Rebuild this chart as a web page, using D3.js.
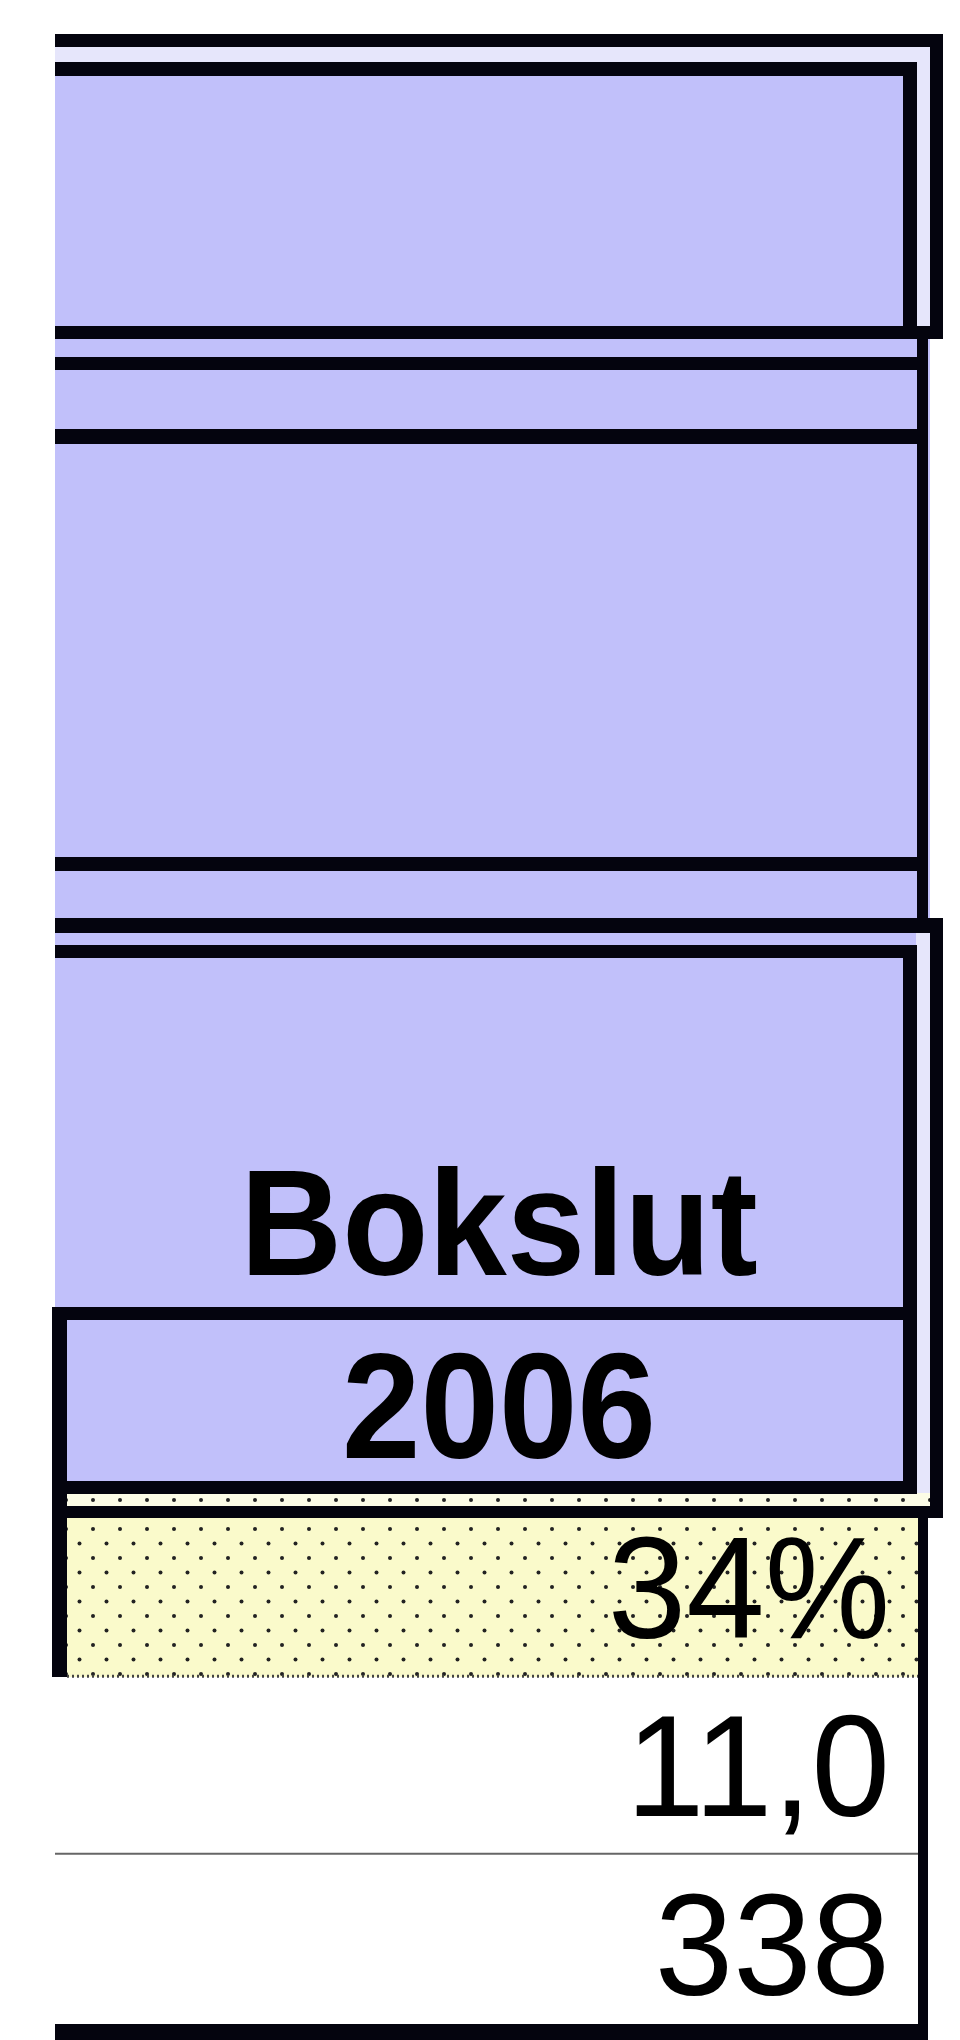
<!DOCTYPE html>
<html>
<head>
<meta charset="utf-8">
<script src="https://cdn.jsdelivr.net/npm/d3@7"></script>
<style>
  body { margin: 0; background: #fff; }
  svg { display: block; }
  text { font-family: "Liberation Sans", Arial, sans-serif; fill: #000; }
</style>
</head>
<body>
<svg width="960" height="2040"></svg>
<script>
// Table content
const HEADER = ["Bokslut", "2006"];
const VALUES = [0.34, 11.0, 338];
const FORMATS = [".0%", ".1f", "d"];

const svg = d3.select("svg");
const sv = d3.formatLocale({ decimal: ",", thousands: "\u00a0", grouping: [3], currency: ["", " kr"] });

const LAV = "#c1c0fa", PALE = "#e6e6fb", YEL = "#fafacb";

// dotted fill like the spreadsheet pattern
const defs = svg.append("defs");
function dots(id, bg) {
    const p = defs.append("pattern").attr("id", id)
        .attr("patternUnits", "userSpaceOnUse")
        .attr("x", 62).attr("y", 1496)
        .attr("width", 27).attr("height", 29);
    p.append("rect").attr("width", 27).attr("height", 29).attr("fill", bg);
    p.append("circle").attr("cx", 4).attr("cy", 4).attr("r", 2).attr("fill", "#222");
    p.append("circle").attr("cx", 17.5).attr("cy", 18.5).attr("r", 2).attr("fill", "#222");
}
dots("dotsYel", YEL);
dots("dotsPale", "#fcfce6");

// fills [x, y, w, h, fill]
const fills = [
    [55, 40, 875, 1460, LAV],
    [55, 47, 875, 16, PALE],
    [916, 47, 15, 285, PALE],
    [916, 932, 15, 570, PALE],
    [55, 1493, 876, 14, "url(#dotsPale)"],
    [60, 1517, 864, 160, "url(#dotsYel)"]
];
svg.append("g").selectAll("rect").data(fills).join("rect")
    .attr("x", d => d[0]).attr("y", d => d[1])
    .attr("width", d => d[2]).attr("height", d => d[3])
    .attr("fill", d => d[4]);

// borders [x0, y0, x1, y1]
const borders = [
    [55, 34, 943, 47],
    [930, 34, 943, 339],
    [55, 62, 917, 76],
    [903, 62, 917, 339],
    [55, 326, 943, 339],
    [917, 332, 928, 930],
    [55, 357, 925, 370],
    [55, 429, 925, 444],
    [55, 857, 925, 871],
    [55, 918, 943, 933],
    [930, 918, 943, 1518],
    [55, 945, 917, 958],
    [903, 945, 917, 1494],
    [52, 1307, 917, 1320],
    [52, 1307, 67, 1677],
    [52, 1481, 917, 1494],
    [52, 1506, 943, 1518],
    [918, 1506, 928, 2040],
    [55, 2024, 928, 2040]
];
svg.append("g").selectAll("rect").data(borders).join("rect")
    .attr("x", d => d[0]).attr("y", d => d[1])
    .attr("width", d => d[2] - d[0]).attr("height", d => d[3] - d[1])
    .attr("fill", "#04040e");

// value rows
const y = d3.scaleBand().domain(d3.range(VALUES.length)).range([1500, 2035]);

// row separators under the yellow cell and between the lower rows
svg.append("line")
    .attr("x1", 67).attr("x2", 918)
    .attr("y1", y(1) - 2).attr("y2", y(1) - 2)
    .attr("stroke", "#444").attr("stroke-width", 3).attr("stroke-dasharray", "2 3");
svg.append("line")
    .attr("x1", 55).attr("x2", 918)
    .attr("y1", y(2) - 3).attr("y2", y(2) - 3)
    .attr("stroke", "#666").attr("stroke-width", 2);

// header text (slightly tall, as in the scan)
const headY = [1275, 1458];
svg.append("g").selectAll("text").data(HEADER).join("text")
    .attr("transform", (d, i) => `translate(499,${headY[i]}) scale(0.98,1.04)`)
    .attr("text-anchor", "middle")
    .attr("font-weight", "bold")
    .attr("font-size", 144)
    .text(d => d);

// values
svg.append("g").selectAll("text").data(VALUES).join("text")
    .attr("transform", (d, i) => `translate(890,${y(i) + 138}) scale(1,1.02)`)
    .attr("text-anchor", "end")
    .attr("font-size", 141)
    .text((d, i) => sv.format(FORMATS[i])(d));
</script>
</body>
</html>
